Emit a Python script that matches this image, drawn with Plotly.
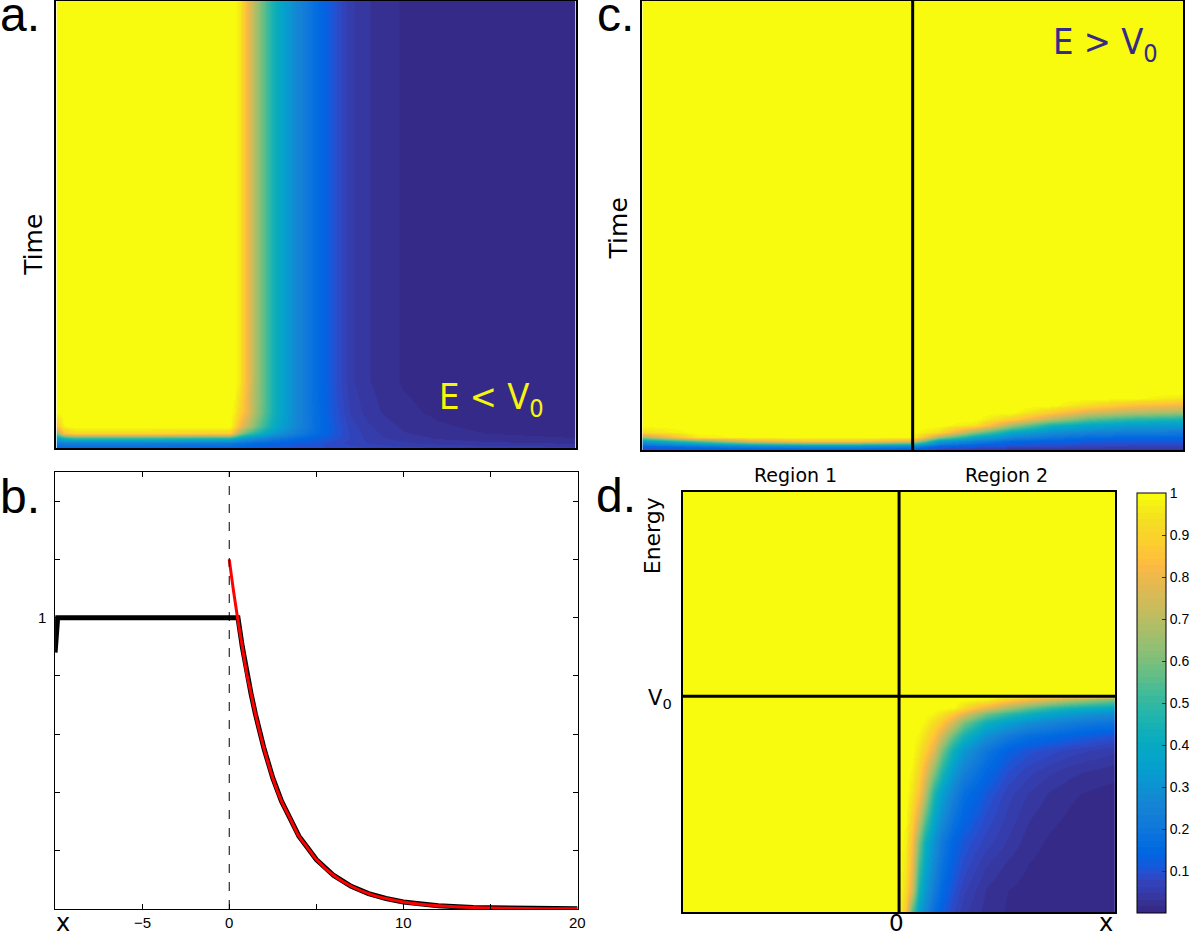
import plotly.graph_objects as go

W, H = 1195, 937

# ---------------- data ----------------
# panel b: profile along x
b_red_x = [0, 0.25, 0.5, 0.75, 1.0, 1.25, 1.5, 2, 2.5, 3, 3.5, 4, 4.5, 5, 6, 7, 8, 9, 10, 11, 12, 14, 16, 18, 20]
b_red_y = [1.20, 1.09, 0.99, 0.90, 0.81, 0.74, 0.67, 0.55, 0.45, 0.37, 0.31, 0.25, 0.21, 0.17, 0.115,
           0.078, 0.053, 0.036, 0.024, 0.016, 0.011, 0.005, 0.0023, 0.001, 0.0005]
b_black_x = [-10, -9.85, -9.7, 0.5, 0.75, 1.0, 1.25, 1.5, 2, 2.5, 3, 3.5, 4, 4.5, 5, 6, 7, 8, 9, 10, 11, 12, 14, 16, 18, 20]
b_black_y = [0.88, 1.0, 1.0, 1.0, 0.90, 0.81, 0.74, 0.67, 0.55, 0.45, 0.37, 0.31, 0.25, 0.21, 0.17, 0.115,
             0.078, 0.053, 0.036, 0.024, 0.016, 0.011, 0.005, 0.0023, 0.001, 0.0005]
b_xtick_vals = [-10, -5, 0, 5, 10, 15, 20]
b_xlabel_vals = [-5, 0, 10, 20]
b_xlabel_text = ["\u22125", "0", "10", "20"]
b_ytick_vals = [0, 0.2, 0.4, 0.6, 0.8, 1.0, 1.2, 1.4]
b_ylabel_vals = [1.0]
b_ylabel_text = ["1"]

# panel a: E < V0, time (rows) vs x (columns)
a_x = [-10, -9.6, -9, -5, 0, 0.3, 0.6, 1, 1.5, 2, 2.5, 3, 4, 5, 6, 7, 8, 9, 10, 12, 15, 20]
a_t = [0, 0.012, 0.022, 0.033, 0.05, 0.08, 0.15, 1]
a_t000 = [0.14, 0.15, 0.15, 0.15, 0.14, 0.14, 0.13, 0.13, 0.12, 0.12, 0.11, 0.11, 0.10, 0.095, 0.09, 0.085, 0.08, 0.075, 0.07, 0.065, 0.06, 0.055]
a_t012 = [0.20, 0.22, 0.22, 0.22, 0.20, 0.19, 0.18, 0.17, 0.15, 0.14, 0.13, 0.12, 0.11, 0.10, 0.085, 0.072, 0.062, 0.055, 0.05, 0.042, 0.035, 0.03]
a_t022 = [0.35, 0.45, 0.50, 0.50, 0.47, 0.42, 0.37, 0.32, 0.28, 0.25, 0.22, 0.20, 0.16, 0.13, 0.10, 0.075, 0.058, 0.047, 0.04, 0.03, 0.022, 0.016]
a_t033 = [0.60, 0.85, 0.92, 0.92, 0.90, 0.78, 0.65, 0.55, 0.47, 0.40, 0.34, 0.29, 0.22, 0.16, 0.11, 0.075, 0.055, 0.042, 0.033, 0.022, 0.015, 0.01]
a_t050 = [0.85, 0.98, 1, 1, 1, 0.93, 0.82, 0.72, 0.60, 0.50, 0.42, 0.35, 0.25, 0.17, 0.11, 0.07, 0.05, 0.038, 0.028, 0.018, 0.011, 0.007]
a_t080 = [1, 1, 1, 1, 1, 0.97, 0.90, 0.80, 0.66, 0.55, 0.45, 0.37, 0.25, 0.165, 0.105, 0.06, 0.04, 0.028, 0.02, 0.012, 0.007, 0.004]
a_t150 = [1, 1, 1, 1, 1, 1, 0.96, 0.82, 0.67, 0.55, 0.45, 0.37, 0.25, 0.16, 0.10, 0.05, 0.033, 0.022, 0.014, 0.008, 0.004, 0.002]
a_t1000 = [1, 1, 1, 1, 1, 1, 0.96, 0.82, 0.67, 0.55, 0.45, 0.37, 0.25, 0.16, 0.10, 0.05, 0.033, 0.022, 0.014, 0.008, 0.004, 0.002]

# panel c: E > V0
c_x = [-10, -8, -6, -4, -2, 0, 1, 2.3, 3.7, 5.1, 6.5, 8, 10]
c_t = [0, 0.01, 0.02, 0.03, 0.04, 0.055, 0.07, 0.085, 0.1, 0.115, 0.13, 1]
c_t000 = [0.06, 0.07, 0.08, 0.08, 0.08, 0.07, 0.05, 0.04, 0.03, 0.03, 0.03, 0.03, 0.03]
c_t010 = [0.14, 0.20, 0.26, 0.30, 0.30, 0.26, 0.14, 0.11, 0.09, 0.08, 0.075, 0.07, 0.068]
c_t020 = [0.34, 0.55, 0.76, 0.85, 0.85, 0.76, 0.34, 0.23, 0.15, 0.13, 0.115, 0.11, 0.105]
c_t030 = [0.65, 0.96, 1, 1, 1, 1, 0.65, 0.39, 0.26, 0.20, 0.165, 0.15, 0.145]
c_t040 = [0.93, 1, 1, 1, 1, 1, 0.93, 0.63, 0.39, 0.29, 0.25, 0.225, 0.215]
c_t055 = [1, 1, 1, 1, 1, 1, 1, 0.95, 0.66, 0.45, 0.38, 0.34, 0.33]
c_t070 = [1, 1, 1, 1, 1, 1, 1, 1, 0.89, 0.70, 0.56, 0.49, 0.45]
c_t085 = [1, 1, 1, 1, 1, 1, 1, 1, 1, 0.89, 0.76, 0.70, 0.66]
c_t100 = [1, 1, 1, 1, 1, 1, 1, 1, 1, 1, 0.93, 0.85, 0.81]
c_t115 = [1, 1, 1, 1, 1, 1, 1, 1, 1, 1, 1, 1, 0.95]
c_t130 = [1, 1, 1, 1, 1, 1, 1, 1, 1, 1, 1, 1, 1]
c_t1000 = [1, 1, 1, 1, 1, 1, 1, 1, 1, 1, 1, 1, 1]

# panel d: energy (rows) vs x (columns), V0 = 1
d_x = [-10, 0, 0.3, 0.6, 0.9, 1.2, 1.6, 2, 2.5, 3, 4, 5, 6, 7, 8, 9, 10]
d_E = [0, 0.1, 0.2, 0.32, 0.43, 0.55, 0.65, 0.75, 0.82, 0.88, 0.92, 0.95, 0.99, 1.0, 1.95]
d_E000 = [1, 1.0, 0.85, 0.55, 0.35, 0.27, 0.17, 0.12, 0.08, 0.05, 0.025, 0.014, 0.008, 0.005, 0.003, 0.002, 0.001]
d_E010 = [1, 1.0, 0.92, 0.75, 0.45, 0.33, 0.22, 0.15, 0.10, 0.065, 0.03, 0.016, 0.009, 0.005, 0.003, 0.002, 0.001]
d_E020 = [1, 1.0, 0.95, 0.80, 0.52, 0.38, 0.26, 0.18, 0.12, 0.085, 0.045, 0.026, 0.014, 0.008, 0.005, 0.003, 0.002]
d_E032 = [1, 1.0, 0.97, 0.84, 0.60, 0.43, 0.30, 0.21, 0.14, 0.105, 0.07, 0.045, 0.022, 0.012, 0.007, 0.004, 0.003]
d_E043 = [1, 1.0, 0.99, 0.90, 0.73, 0.56, 0.38, 0.28, 0.19, 0.135, 0.088, 0.057, 0.032, 0.019, 0.012, 0.007, 0.005]
d_E055 = [1, 1.0, 1.0, 0.95, 0.85, 0.70, 0.47, 0.35, 0.25, 0.17, 0.11, 0.07, 0.045, 0.028, 0.018, 0.012, 0.008]
d_E065 = [1, 1.0, 1.0, 0.98, 0.91, 0.80, 0.62, 0.47, 0.33, 0.24, 0.15, 0.095, 0.068, 0.05, 0.036, 0.028, 0.022]
d_E075 = [1, 1.0, 1.0, 1.0, 0.95, 0.89, 0.77, 0.60, 0.43, 0.32, 0.20, 0.13, 0.10, 0.085, 0.07, 0.06, 0.05]
d_E082 = [1, 1, 1, 1, 0.98, 0.94, 0.86, 0.74, 0.58, 0.45, 0.30, 0.22, 0.17, 0.15, 0.13, 0.115, 0.10]
d_E088 = [1, 1, 1, 1, 1, 0.98, 0.93, 0.87, 0.75, 0.60, 0.43, 0.35, 0.29, 0.25, 0.22, 0.20, 0.19]
d_E092 = [1, 1, 1, 1, 1, 1, 0.98, 0.95, 0.88, 0.78, 0.60, 0.50, 0.43, 0.37, 0.33, 0.30, 0.28]
d_E095 = [1, 1, 1, 1, 1, 1, 1, 1, 1, 0.93, 0.80, 0.68, 0.58, 0.50, 0.45, 0.42, 0.40]
d_E099 = [1, 1, 1, 1, 1, 1, 1, 1, 1, 1, 1, 0.92, 0.85, 0.78, 0.72, 0.67, 0.62]
d_E100 = [1] * 17
d_E195 = [1] * 17
V0 = 1.0

cbar_vals = [0.1, 0.2, 0.3, 0.4, 0.5, 0.6, 0.7, 0.8, 0.9, 1.0]
cbar_text = ["0.1", "0.2", "0.3", "0.4", "0.5", "0.6", "0.7", "0.8", "0.9", "1"]

# ---------------- style ----------------
parula = ["#352a87", "#363093", "#3637a0", "#353dad", "#3243ba", "#2c4ac7", "#2053d4", "#0f5cdd",
          "#0363e1", "#0268e1", "#046de0", "#0871de", "#0d75dc", "#1079da", "#127dd8", "#1481d6",
          "#1485d4", "#1389d3", "#108ed2", "#0c93d2", "#0998d1", "#079ccf", "#06a0cd", "#06a4ca",
          "#06a7c6", "#07a9c2", "#0aacbe", "#0faeb9", "#15b1b4", "#1db3af", "#25b5a9", "#2eb7a4",
          "#38b99e", "#42bb98", "#4dbc92", "#59bd8c", "#65be86", "#71bf80", "#7cbf7b", "#87bf77",
          "#92bf73", "#9cbf6f", "#a5be6b", "#aebe67", "#b7bd64", "#c0bc60", "#c8bc5d", "#d1bb59",
          "#d9ba56", "#e1b952", "#e9b94e", "#f1b94a", "#f8ba44", "#fdbe3d", "#ffc337", "#fec832",
          "#fcce2e", "#fad32a", "#f7d826", "#f5de21", "#f5e41d", "#f5eb18", "#f6f313", "#f9fb0e"]
n = len(parula)
cscale = []
for i, c in enumerate(parula):
    cscale.append([i / n, c])
    cscale.append([(i + 1) / n, c])


def X(px):
    return px / W


def Y(py):
    return 1 - py / H


fig = go.Figure()

hm = dict(colorscale=cscale, zmin=0, zmax=1, zsmooth="best", hoverinfo="skip")

fig.add_trace(go.Heatmap(x=a_x, y=a_t, z=[a_t000, a_t012, a_t022, a_t033, a_t050, a_t080, a_t150, a_t1000],
                         xaxis="x", yaxis="y", showscale=False, **hm))
fig.add_trace(go.Heatmap(x=c_x, y=c_t, z=[c_t000, c_t010, c_t020, c_t030, c_t040, c_t055, c_t070, c_t085,
                                          c_t100, c_t115, c_t130, c_t1000],
                         xaxis="x3", yaxis="y3", showscale=False, **hm))
fig.add_trace(go.Heatmap(x=d_x, y=d_E, z=[d_E000, d_E010, d_E020, d_E032, d_E043, d_E055, d_E065, d_E075,
                                          d_E082, d_E088, d_E092, d_E095, d_E099, d_E100, d_E195],
                         xaxis="x4", yaxis="y4", showscale=True,
                         colorbar=dict(x=X(1142), xanchor="left", xpad=0, y=Y(913), yanchor="bottom",
                                       ypad=0, len=420 / H, lenmode="fraction", thickness=29,
                                       thicknessmode="pixels", outlinewidth=1, outlinecolor="black",
                                       tickmode="array", tickvals=cbar_vals, ticktext=cbar_text,
                                       ticks="inside", ticklen=4, tickcolor="#333",
                                       tickfont=dict(family="Liberation Sans, Arial", size=14, color="black")),
                         **hm))

fig.add_trace(go.Scatter(x=b_black_x, y=b_black_y, mode="lines", xaxis="x2", yaxis="y2",
                         line=dict(color="black", width=5), hoverinfo="skip"))
fig.add_trace(go.Scatter(x=b_red_x, y=b_red_y, mode="lines", xaxis="x2", yaxis="y2",
                         line=dict(color="#ff0000", width=3, shape="spline"), hoverinfo="skip"))

frame = dict(showgrid=False, zeroline=False, showline=True, mirror=True, linecolor="black",
             ticks="", showticklabels=False)

layout = dict(
    width=W, height=H, margin=dict(l=0, r=0, t=0, b=0),
    paper_bgcolor="white", plot_bgcolor="white", showlegend=False,
    xaxis=dict(domain=[X(56.7), X(578)], range=[-10, 20], anchor="y", linewidth=1.5, **frame),
    yaxis=dict(domain=[Y(448), Y(1)], range=[0, 1], anchor="x", linewidth=1.5, **frame),
    xaxis3=dict(domain=[X(645), X(1188)], range=[-10, 10], anchor="y3", linewidth=1.5, **frame),
    yaxis3=dict(domain=[Y(450), Y(1)], range=[0, 1], anchor="x3", linewidth=1.5, **frame),
    xaxis4=dict(domain=[X(685.7), X(1120)], range=[-10, 10], anchor="y4", linewidth=2, **frame),
    yaxis4=dict(domain=[Y(912), Y(491.5)], range=[0, 1.95], anchor="x4", linewidth=2, **frame),
    xaxis2=dict(domain=[X(55.3), X(580)], range=[-10, 20], anchor="y2", showgrid=False, zeroline=False,
                showline=True, mirror="allticks", linecolor="black", linewidth=1, ticks="inside",
                ticklen=5, tickcolor="black", tickmode="array", tickvals=b_xtick_vals,
                showticklabels=False),
    yaxis2=dict(domain=[Y(909), Y(472)], range=[0, 1.5], anchor="x2", showgrid=False, zeroline=False,
                showline=True, mirror="allticks", linecolor="black", linewidth=1, ticks="inside",
                ticklen=5, tickcolor="black", tickmode="array", tickvals=b_ytick_vals,
                showticklabels=False),
)
fig.update_layout(**layout)

shapes = [
    dict(type="line", xref="x2", yref="y2", x0=0, x1=0, y0=0, y1=1.5,
         line=dict(color="black", width=1, dash="dash")),
    dict(type="line", xref="x3", yref="y3", x0=0, x1=0, y0=0, y1=1,
         line=dict(color="black", width=3)),
    dict(type="line", xref="x4", yref="y4", x0=0, x1=0, y0=0, y1=1.95,
         line=dict(color="black", width=3)),
    dict(type="line", xref="x4", yref="y4", x0=-10, x1=10, y0=V0, y1=V0,
         line=dict(color="black", width=3)),
]
fig.update_layout(shapes=shapes)

HEL = "Liberation Sans, Arial, sans-serif"
DJ = "DejaVu Sans, sans-serif"
COND = "DejaVu Sans Condensed, Liberation Sans Narrow, DejaVu Sans, sans-serif"


def ann(text, px, py, size, family, color="black", xanchor="center", yanchor="middle", angle=0):
    return dict(text=text, x=X(px), y=Y(py), xref="paper", yref="paper", showarrow=False,
                xanchor=xanchor, yanchor=yanchor, textangle=angle,
                font=dict(family=family, size=size, color=color))


annotations = [
    ann("a.", -2, 15, 48, HEL, xanchor="left"),
    ann("b.", -2, 496, 48, HEL, xanchor="left"),
    ann("c.", 597, 15, 48, HEL, xanchor="left"),
    ann("d.", 596, 495, 48, HEL, xanchor="left"),
    ann("Time", 34, 245, 25, DJ, angle=-90),
    ann("Time", 622, 228, 25, DJ, angle=-90),
    ann("Energy", 655, 536, 22, DJ, angle=-90),
    ann("Region 1", 799, 475, 19, DJ),
    ann("Region 2", 1011, 475, 19, DJ),
    ann("V<sub>0</sub>", 677, 699, 21, DJ, xanchor="right"),
    ann("0", 900, 923, 23, DJ),
    ann("x", 1111, 923, 24, DJ),
    ann("x", 63, 923, 24, DJ),
    ann("E &lt; V<sub>0</sub>", 494, 400, 36, COND, color="#f5f50f"),
    ann("E &gt; V<sub>0</sub>", 1110, 45, 36, COND, color="#352a87"),
]
for v, t in zip(b_xlabel_vals, b_xlabel_text):
    annotations.append(dict(text=t, x=v, y=Y(922), xref="x2", yref="paper", showarrow=False,
                            xanchor="center", yanchor="middle",
                            font=dict(family=HEL, size=15, color="black")))
for v, t in zip(b_ylabel_vals, b_ylabel_text):
    annotations.append(dict(text=t, x=X(48), y=v, xref="paper", yref="y2", showarrow=False,
                            xanchor="right", yanchor="middle",
                            font=dict(family=HEL, size=15, color="black")))
fig.update_layout(annotations=annotations)

fig.write_html("out.html")
